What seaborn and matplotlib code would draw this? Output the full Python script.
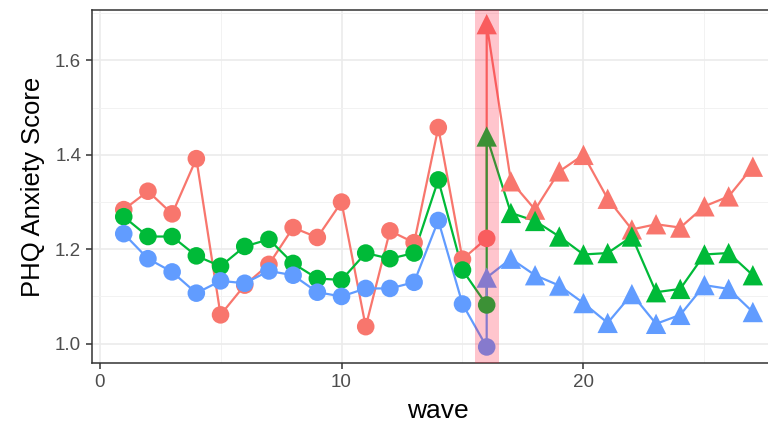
import numpy as np
import pandas as pd
import matplotlib
matplotlib.use("Agg")
import matplotlib.pyplot as plt
import seaborn as sns

# %%
# values
waves_pre = list(range(1, 17))
waves_post = list(range(16, 28))

red_pre = [1.284, 1.323, 1.275, 1.392, 1.061, 1.124, 1.168, 1.246, 1.225, 1.300,
           1.036, 1.239, 1.214, 1.458, 1.179, 1.223]
green_pre = [1.269, 1.227, 1.227, 1.186, 1.164, 1.206, 1.221, 1.170, 1.138, 1.135,
             1.192, 1.180, 1.192, 1.347, 1.156, 1.082]
blue_pre = [1.233, 1.180, 1.152, 1.107, 1.133, 1.128, 1.154, 1.145, 1.109, 1.100,
            1.117, 1.117, 1.130, 1.261, 1.084, 0.993]

red_post = [1.677, 1.344, 1.284, 1.365, 1.400, 1.307, 1.242, 1.253, 1.246, 1.291, 1.312, 1.375]
green_post = [1.439, 1.277, 1.260, 1.227, 1.189, 1.192, 1.227, 1.109, 1.116, 1.189, 1.192, 1.145]
blue_post = [1.140, 1.180, 1.145, 1.123, 1.086, 1.044, 1.105, 1.042, 1.061, 1.124, 1.116, 1.067]

groups = ["red", "green", "blue"]
palette = {"red": "#F8766D", "green": "#00BA38", "blue": "#619CFF"}
highlight_wave = 16

# %%
rows = []
for g, pre, post in zip(groups, [red_pre, green_pre, blue_pre], [red_post, green_post, blue_post]):
    for w, v in zip(waves_pre, pre):
        rows.append((g, w, v, "pre"))
    for w, v in zip(waves_post, post):
        rows.append((g, w, v, "post"))
df = pd.DataFrame(rows, columns=["group", "wave", "score", "phase"])

# %%
plt.rcParams["font.family"] = ["Liberation Sans", "DejaVu Sans"]
fig = plt.figure(figsize=(7.68, 4.29), dpi=100)
ax = fig.add_axes([92.3 / 768, 66 / 429, 692 / 768, 353 / 429])

sns.lineplot(data=df, x="wave", y="score", hue="group", palette=palette,
             sort=False, estimator=None, linewidth=1.6, legend=False, ax=ax, zorder=3)
sns.scatterplot(data=df[df.phase == "pre"], x="wave", y="score", hue="group", palette=palette,
                marker="o", s=160, linewidth=0, legend=False, ax=ax, zorder=4)
sns.scatterplot(data=df[df.phase == "post"], x="wave", y="score", hue="group", palette=palette,
                marker="^", s=215, linewidth=0, legend=False, ax=ax, zorder=4)

# highlighted wave drawn over the marks
ax.axvspan(highlight_wave - 0.5, highlight_wave + 0.5, color="#FF1030", alpha=0.24,
           linewidth=0, zorder=5)

ax.set_xlim(-0.3, 28.3)
ax.set_ylim(0.959, 1.707)
ax.set_xticks([0, 10, 20])
ax.set_yticks([1.0, 1.2, 1.4, 1.6])
ax.set_yticklabels(["1.0", "1.2", "1.4", "1.6"])
ax.set_xticks([5, 15, 25], minor=True)
ax.set_yticks([1.1, 1.3, 1.5, 1.7], minor=True)
ax.grid(which="major", color="#EBEBEB", linewidth=1.2, zorder=0)
ax.grid(which="minor", color="#F2F2F2", linewidth=0.7, zorder=0)
ax.set_axisbelow(True)
ax.tick_params(which="major", length=4, width=1.1, color="#333333",
               labelsize=13.5, labelcolor="#4D4D4D", pad=4)
ax.tick_params(which="minor", length=0)
for s in ax.spines.values():
    s.set_color("#333333")
    s.set_linewidth(1.1)

ax.set_xlabel("wave", fontsize=19, labelpad=6)
ax.set_ylabel("PHQ Anxiety Score", fontsize=18.5, labelpad=7)

plt.savefig("out.png", dpi=100)
